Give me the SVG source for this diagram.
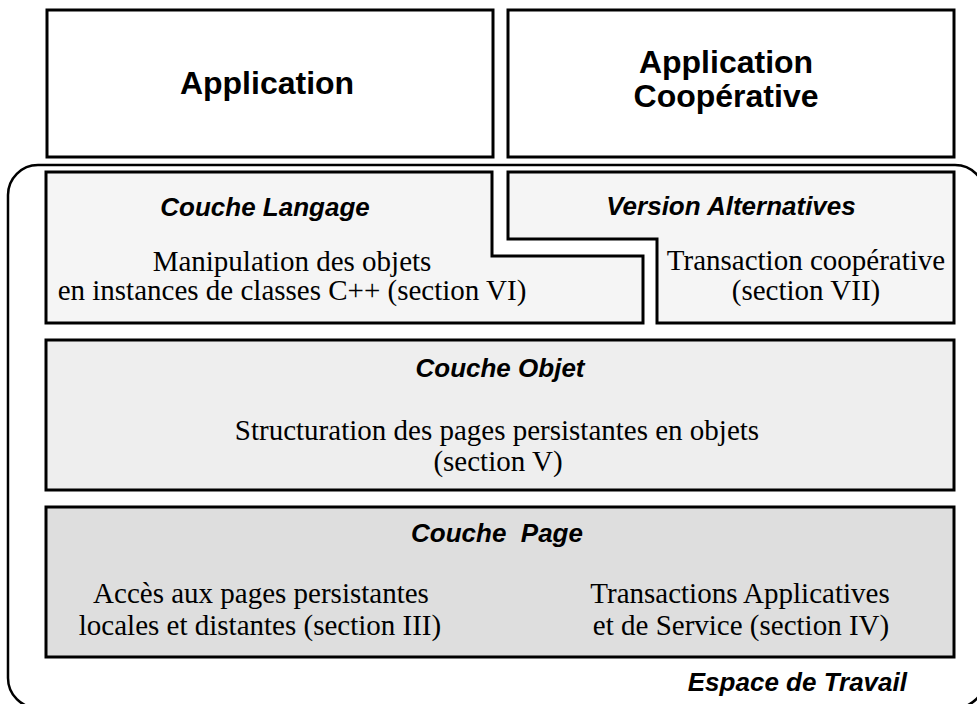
<svg xmlns="http://www.w3.org/2000/svg" width="977" height="704" viewBox="0 0 977 704">
  <style>
    .box { stroke: #000; stroke-width: 3; stroke-linejoin: miter; }
    .app { fill: #ffffff; }
    .lang { fill: #f5f5f5; }
    .obj { fill: #eeeeee; }
    .page { fill: #dedede; }
    .ws { fill: none; stroke: #000; stroke-width: 2.5; }
    .title { font-family: "Liberation Sans", Arial, sans-serif; font-weight: bold; font-size: 32px; fill: #000; text-anchor: middle; }
    .head { font-family: "Liberation Sans", Arial, sans-serif; font-weight: bold; font-style: italic; font-size: 26px; fill: #000; text-anchor: middle; }
    .body { font-family: "Liberation Serif", "Times New Roman", serif; font-size: 29px; fill: #000; text-anchor: middle; }
  </style>

  <!-- workspace outline, running off the right and bottom edges -->
  <g id="espace-de-travail">
    <rect class="ws" x="8" y="165" width="977" height="543" rx="30" ry="30"/>
    <text class="head" x="907" y="691" style="text-anchor:end">Espace de Travail</text>
  </g>

  <g id="application">
    <rect class="box app" x="47" y="10" width="446" height="147"/>
    <text class="title" x="267" y="94">Application</text>
  </g>

  <g id="application-cooperative">
    <rect class="box app" x="508" y="10" width="446" height="147"/>
    <text class="title" x="726" y="73">Application</text>
    <text class="title" x="726" y="107">Coopérative</text>
  </g>

  <!-- the two upper layers interlock with a stepped edge -->
  <g id="couche-langage">
    <path class="box lang" d="M46,172 H492 V256 H643 V323 H46 Z"/>
    <text class="head" x="265" y="216">Couche Langage</text>
    <text class="body" x="292" y="271">Manipulation des objets</text>
    <text class="body" x="292" y="300">en instances de classes C++ (section VI)</text>
  </g>

  <g id="version-alternatives">
    <path class="box lang" d="M508,172 H954 V323 H657 V239 H508 Z"/>
    <text class="head" x="731" y="215">Version Alternatives</text>
    <text class="body" x="806" y="270">Transaction coopérative</text>
    <text class="body" x="806" y="300">(section VII)</text>
  </g>

  <g id="couche-objet">
    <rect class="box obj" x="46" y="340" width="908" height="150"/>
    <text class="head" x="500" y="377">Couche Objet</text>
    <text class="body" x="497" y="440">Structuration des pages persistantes en objets</text>
    <text class="body" x="498" y="471">(section V)</text>
  </g>

  <g id="couche-page">
    <rect class="box page" x="46" y="507" width="908" height="150"/>
    <text class="head" x="497" y="542" style="white-space:pre">Couche  Page</text>
    <text class="body" x="261" y="603">Accès aux pages persistantes</text>
    <text class="body" x="260" y="635">locales et distantes (section III)</text>
    <text class="body" x="740" y="603">Transactions Applicatives</text>
    <text class="body" x="741" y="635">et de Service (section IV)</text>
  </g>
</svg>
